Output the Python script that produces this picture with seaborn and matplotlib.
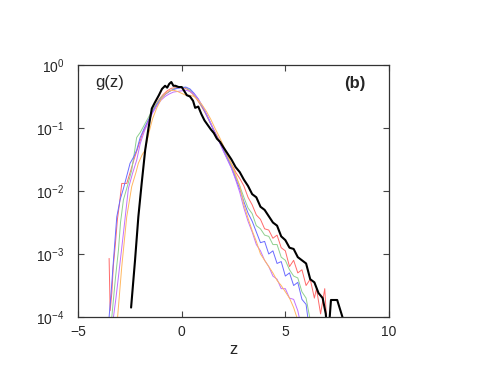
import matplotlib
matplotlib.use("Agg")
import matplotlib.pyplot as plt
import numpy as np
import pandas as pd
import seaborn as sns

# log10 g(z), one (z, log10 g) pair of lists per curve
black_z = [-2.44, -2.25, -2.09, -1.93, -1.76, -1.6, -1.44, -1.3, -1.1, -0.95, -0.8, -0.7, -0.6,
           -0.5, -0.4, -0.3, -0.15, 0.0, 0.1, 0.25, 0.4, 0.55, 0.65, 0.8, 0.95, 1.1, 1.25, 1.4,
           1.55, 1.7, 1.85, 2.0, 2.2, 2.4, 2.6, 2.8, 3.0, 3.2, 3.4, 3.6, 3.8, 4.0, 4.2, 4.4, 4.6,
           4.8, 5.0, 5.2, 5.4, 5.6, 5.8, 6.0, 6.2, 6.4, 6.6, 6.8, 6.95, 7.05, 7.2, 7.5, 7.8]
black_lg = [-3.85, -3.1, -2.41, -1.88, -1.35, -1.0, -0.69, -0.6, -0.48, -0.38, -0.33, -0.36, -0.3,
            -0.27, -0.33, -0.33, -0.35, -0.35, -0.4, -0.48, -0.5, -0.57, -0.68, -0.66, -0.78, -0.88,
            -0.95, -1.02, -1.08, -1.17, -1.22, -1.3, -1.4, -1.5, -1.62, -1.7, -1.82, -1.92, -2.05,
            -2.1, -2.25, -2.3, -2.4, -2.5, -2.55, -2.72, -2.78, -2.9, -2.92, -3.05, -3.1, -3.15,
            -3.4, -3.45, -3.62, -3.7, -3.95, -4.4, -3.73, -3.73, -4.05]

red_z = [-3.5, -3.45, -3.37, -3.3, -3.2, -3.1, -3.0, -2.89, -2.65, -2.49, -2.3, -2.1, -1.9, -1.7,
         -1.5, -1.3, -1.1, -0.9, -0.7, -0.5, -0.3, -0.1, 0.1, 0.3, 0.5, 0.7, 0.9, 1.1, 1.3, 1.5,
         1.7, 1.9, 2.1, 2.3, 2.5, 2.6, 2.8, 3.0, 3.2, 3.4, 3.6, 3.8, 4.0, 4.2, 4.4, 4.6, 4.8, 5.0,
         5.2, 5.4, 5.6, 5.8, 6.0, 6.2, 6.4, 6.5, 6.7, 6.9, 7.0]
red_lg = [-3.07, -3.9, -3.62, -3.2, -2.85, -2.45, -2.2, -1.88, -1.88, -1.71, -1.5, -1.3, -1.1,
          -0.95, -0.8, -0.66, -0.55, -0.47, -0.41, -0.37, -0.36, -0.35, -0.36, -0.39, -0.45,
          -0.53, -0.63, -0.74, -0.87, -1.0, -1.12, -1.25, -1.38, -1.52, -1.63, -1.7, -1.8,
          -1.92, -2.1, -2.22, -2.38, -2.45, -2.6, -2.62, -2.75, -2.7, -2.9, -2.95, -3.2, -3.1,
          -3.3, -3.25, -3.5, -3.4, -3.7, -3.55, -3.95, -3.55, -4.1]

green_z = [-3.37, -3.2, -3.05, -2.95, -2.81, -2.6, -2.41, -2.17, -2.0, -1.8, -1.6, -1.4, -1.2,
           -1.0, -0.8, -0.6, -0.4, -0.2, 0.0, 0.2, 0.4, 0.6, 0.8, 1.0, 1.2, 1.4, 1.6, 1.8, 2.0,
           2.2, 2.4, 2.6, 2.8, 3.0, 3.2, 3.4, 3.6, 3.8, 4.0, 4.2, 4.4, 4.6, 4.8, 5.0, 5.2, 5.4,
           5.6, 5.8, 6.0, 6.2]
green_lg = [-4.0, -3.4, -2.94, -2.5, -2.14, -1.9, -1.67, -1.15, -1.07, -0.95, -0.83, -0.71,
            -0.61, -0.52, -0.46, -0.42, -0.38, -0.36, -0.35, -0.36, -0.4, -0.47, -0.56, -0.67,
            -0.79, -0.93, -1.07, -1.2, -1.33, -1.47, -1.6, -1.76, -1.92, -2.1, -2.27, -2.36,
            -2.55, -2.6, -2.7, -2.72, -2.85, -2.85, -3.05, -3.1, -3.25, -3.35, -3.38, -3.6,
            -3.7, -4.05]

blue_z = [-3.5, -3.4, -3.29, -3.13, -2.97, -2.8, -2.6, -2.49, -2.3, -2.17, -2.0, -1.8, -1.6,
          -1.4, -1.2, -1.0, -0.8, -0.6, -0.4, -0.2, 0.0, 0.2, 0.4, 0.6, 0.8, 1.0, 1.2, 1.4, 1.6,
          1.8, 2.0, 2.2, 2.4, 2.6, 2.8, 3.0, 3.2, 3.4, 3.6, 3.8, 4.0, 4.2, 4.4, 4.6, 4.8, 5.0,
          5.2, 5.4, 5.6, 5.8, 6.0, 6.1]
blue_lg = [-4.0, -3.6, -3.1, -2.41, -2.14, -1.95, -1.7, -1.56, -1.45, -1.35, -1.15, -1.0, -0.87,
           -0.74, -0.63, -0.54, -0.47, -0.42, -0.39, -0.37, -0.36, -0.35, -0.38, -0.45, -0.54,
           -0.66, -0.79, -0.93, -1.08, -1.21, -1.35, -1.49, -1.63, -1.8, -1.97, -2.17, -2.35,
           -2.48, -2.65, -2.82, -2.8, -3.0, -2.95, -3.15, -3.12, -3.35, -3.3, -3.5, -3.45,
           -3.72, -3.8, -4.05]

purple_z = [-3.29, -3.17, -3.05, -2.81, -2.57, -2.37, -2.17, -2.0, -1.8, -1.6, -1.4, -1.2, -1.0,
            -0.8, -0.6, -0.4, -0.2, 0.0, 0.2, 0.4, 0.6, 0.8, 1.0, 1.2, 1.4, 1.6, 1.8, 2.0, 2.2,
            2.4, 2.6, 2.8, 3.0, 3.2, 3.4, 3.6, 3.8, 4.0, 4.2, 4.4, 4.6, 4.8, 5.0, 5.2, 5.4, 5.6,
            5.7]
purple_lg = [-4.0, -3.7, -3.36, -2.67, -1.96, -1.72, -1.51, -1.25, -1.05, -0.9, -0.76, -0.65,
             -0.56, -0.5, -0.46, -0.43, -0.42, -0.41, -0.4, -0.42, -0.46, -0.54, -0.65, -0.78,
             -0.92, -1.07, -1.21, -1.36, -1.5, -1.64, -1.82, -2.02, -2.27, -2.48, -2.65, -2.85,
             -2.95, -3.1, -3.2, -3.35, -3.4, -3.55, -3.55, -3.7, -3.72, -3.9, -4.05]

orange_z = [-3.09, -2.89, -2.65, -2.41, -2.2, -2.09, -1.9, -1.76, -1.6, -1.4, -1.2, -1.0, -0.8,
            -0.6, -0.4, -0.2, 0.0, 0.2, 0.4, 0.6, 0.8, 1.0, 1.2, 1.4, 1.6, 1.8, 2.0, 2.2, 2.4,
            2.6, 2.8, 3.0, 3.2, 3.4, 3.6, 3.8, 4.0, 4.2, 4.4, 4.6, 4.8, 5.0, 5.2, 5.4, 5.6]
orange_lg = [-4.0, -3.2, -2.41, -1.93, -1.7, -1.56, -1.42, -1.35, -1.1, -0.85, -0.68, -0.55,
             -0.46, -0.41, -0.4, -0.42, -0.45, -0.48, -0.48, -0.5, -0.56, -0.64, -0.74, -0.86,
             -1.0, -1.13, -1.27, -1.42, -1.57, -1.74, -1.92, -2.22, -2.43, -2.63, -2.8, -3.0,
             -3.1, -3.2, -3.3, -3.42, -3.5, -3.6, -3.7, -3.85, -4.05]

thin_curves = [
    ("red", red_z, red_lg, "#ff6a6a"),
    ("green", green_z, green_lg, "#8fd08f"),
    ("blue", blue_z, blue_lg, "#6a6aff"),
    ("purple", purple_z, purple_lg, "#c070ff"),
    ("orange", orange_z, orange_lg, "#ffb860"),
]

sns.set_style("ticks")
plt.rcParams["font.family"] = ["Liberation Sans", "DejaVu Sans"]

fig = plt.figure(figsize=(4.95, 3.83), dpi=100)
ax = fig.add_axes([0.1576, 0.1723, 0.6283, 0.658])

for name, zs, lg, col in thin_curves:
    df = pd.DataFrame({"z": zs, "g": 10.0 ** np.array(lg)})
    sns.lineplot(data=df, x="z", y="g", ax=ax, color=col, lw=0.7,
                 sort=False, estimator=None)

df_black = pd.DataFrame({"z": black_z, "g": 10.0 ** np.array(black_lg)})
sns.lineplot(data=df_black, x="z", y="g", ax=ax, color="black", lw=1.5,
             sort=False, estimator=None)

ax.set_yscale("log")
ax.set_xlim(-5, 10)
ax.set_ylim(1e-4, 1)
ax.set_xticks([-5, 0, 5, 10])
ax.set_xticklabels(["\u22125", "0", "5", "10"])
ax.set_yticks([1e-4, 1e-3, 1e-2, 1e-1, 1])
ax.yaxis.set_minor_locator(matplotlib.ticker.NullLocator())
ax.tick_params(direction="in", top=True, right=True, length=4, width=0.8,
               labelsize=10, color="#444444")
ax.tick_params(axis="y", pad=10)
ax.tick_params(axis="x", pad=6)
ax.set_xlabel("z", fontsize=12, labelpad=2)
ax.set_ylabel("")
for sp in ax.spines.values():
    sp.set_linewidth(0.9)
    sp.set_color("#333333")

ax.text(0.055, 0.96, "g(z)", transform=ax.transAxes, fontsize=12, va="top")
ax.text(0.925, 0.955, "(b)", transform=ax.transAxes, fontsize=12, va="top",
        ha="right", fontweight="bold")

fig.savefig("out.png", dpi=100)
